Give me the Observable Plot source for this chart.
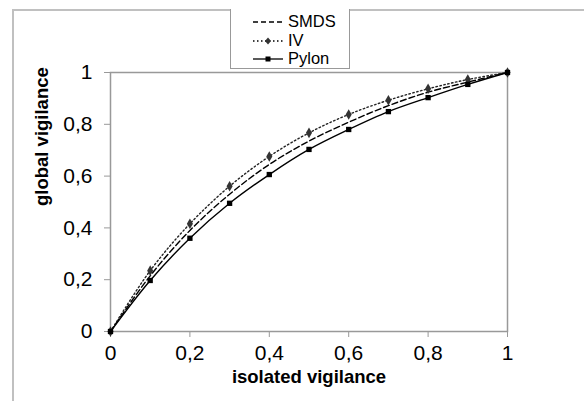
<!DOCTYPE html>
<html><head><meta charset="utf-8">
<script src="https://cdn.jsdelivr.net/npm/d3@7"></script>
<script src="https://cdn.jsdelivr.net/npm/@observablehq/plot@0.6"></script>
<style>
body{margin:0;background:#fff;font-family:"Liberation Sans",Arial,sans-serif;}
#wrap{position:relative;width:584px;height:401px;overflow:hidden;}
#border{position:absolute;left:12px;top:9px;width:600px;height:420px;border-left:2px solid #c0c0c0;border-top:2px solid #c0c0c0;}
#legend{position:absolute;left:230px;top:9px;width:118px;height:59px;border:1px solid #999;border-top:none;background:#fff;font-size:16.5px;}
.row{position:absolute;left:22px;height:18px;}
.row span{position:absolute;left:35px;top:-1px;white-space:nowrap;}
</style></head>
<body><div id="wrap"><div id="border"></div><div id="chart"></div><div id="legend"></div></div>
<script>
const xs = [0,0.1,0.2,0.3,0.4,0.5,0.6,0.7,0.8,0.9,1];
const smds = [0,0.215,0.39,0.53,0.645,0.735,0.808,0.872,0.924,0.963,1];
const iv = [0,0.235,0.416,0.561,0.676,0.767,0.838,0.893,0.937,0.973,1];
const pylon = [0,0.197,0.36,0.495,0.606,0.703,0.78,0.849,0.903,0.954,1];
const seriesNames = ["SMDS","IV","Pylon"];
const xTicks = [0,0.2,0.4,0.6,0.8,1];
const yTicks = [0,0.2,0.4,0.6,0.8,1];
const xTitle = "isolated vigilance";
const yTitle = "global vigilance";

const rows = [];
[smds, iv, pylon].forEach((vals, i) => xs.forEach((x, j) => rows.push({series: seriesNames[i], x, y: vals[j]})));
const of = s => rows.filter(d => d.series === s);
const fmt = d => String(d).replace(".", ",");

const chart = Plot.plot({
  width: 584, height: 401,
  marginLeft: 110, marginRight: 77, marginTop: 72, marginBottom: 70,
  style: {fontFamily: "'Liberation Sans', Arial, sans-serif", fontSize: "21px", background: "transparent"},
  x: {domain: [0, 1]},
  y: {domain: [0, 1]},
  marks: [
    Plot.frame({stroke: "#999", strokeWidth: 1.5}),
    Plot.axisX({ticks: xTicks, tickFormat: fmt, tickSize: 6, tickPadding: 8, stroke: "#999", fill: "black", label: null}),
    Plot.axisY({ticks: yTicks, tickFormat: fmt, tickSize: 6, tickPadding: 12, stroke: "#999", fill: "black", label: null}),
    Plot.line(of("SMDS"), {x: "x", y: "y", curve: "catmull-rom", stroke: "black", strokeWidth: 1.4, strokeDasharray: "6,3"}),
    Plot.line(of("IV"), {x: "x", y: "y", curve: "catmull-rom", stroke: "#222", strokeWidth: 1.4, strokeDasharray: "1.5,2.5"}),
    Plot.line(of("Pylon"), {x: "x", y: "y", curve: "catmull-rom", stroke: "black", strokeWidth: 1.4}),
    Plot.dot(of("IV"), {x: "x", y: "y", symbol: "diamond", r: 3.2, fill: "#333"}),
    Plot.dot(of("Pylon"), {x: "x", y: "y", symbol: "square", r: 3, fill: "black"}),
    Plot.text([xTitle], {text: d => d, frameAnchor: "bottom", dy: 51, fontWeight: "bold", fontSize: 18.5, fill: "black"}),
    Plot.text([yTitle], {text: d => d, frameAnchor: "left", dx: -68, dy: 4, rotate: -90, fontWeight: "bold", fontSize: 18.5, fill: "black"})
  ]
});
document.getElementById("chart").appendChild(chart);

// legend
const leg = document.getElementById("legend");
const styles = [
  {dash: "5,3", marker: null},
  {dash: "1.5,2.5", marker: "diamond"},
  {dash: null, marker: "square"}
];
seriesNames.forEach((name, i) => {
  const r = document.createElement("div");
  r.className = "row";
  r.style.top = (4 + i * 18.5) + "px";
  const s = styles[i];
  let mk = "";
  if (s.marker === "diamond") mk = '<path d="M15,5.5 L18,9 L15,12.5 L12,9Z" fill="#333"/>';
  if (s.marker === "square") mk = '<rect x="12.5" y="6.5" width="5" height="5" fill="black"/>';
  r.innerHTML = `<svg width="32" height="18" style="position:absolute;left:0;top:0"><line x1="0" x2="30" y1="9" y2="9" stroke="black" stroke-width="1.3" ${s.dash ? `stroke-dasharray="${s.dash}"` : ""}/>${mk}</svg><span>${name}</span>`;
  leg.appendChild(r);
});
</script></body></html>
